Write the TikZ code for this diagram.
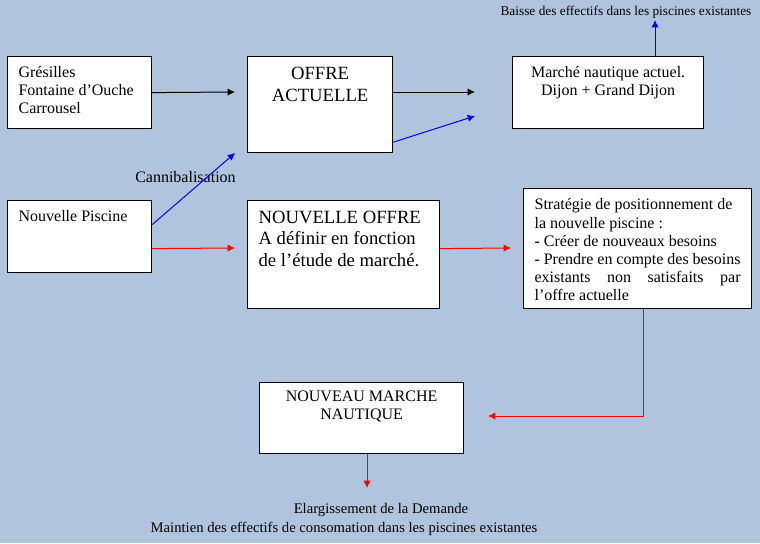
\documentclass[tikz,border=0pt]{standalone}
\usepackage{fontspec}
\setmainfont{Liberation Serif}
\usetikzlibrary{arrows.meta}
\definecolor{fond}{RGB}{176,196,222}
\definecolor{bleu}{RGB}{0,0,255}
\definecolor{rouge}{RGB}{255,0,0}

\begin{document}
\begin{tikzpicture}[x=0.75pt,y=-0.75pt,
    boite/.style={draw,fill=white,line width=0.9pt,anchor=north west,inner xsep=8.25pt},
    fleche/.style={line width=0.75pt,-{Latex[length=5.5pt,width=5.5pt]}},
    douze/.style={font=\fontsize{12}{13.6}\selectfont},
    onze/.style={font=\fontsize{11}{13}\selectfont},
    quatorze/.style={font=\fontsize{14}{16.3}\selectfont}]
    \fill[fond] (0,0) rectangle (760,543);
    \useasboundingbox (0,0) rectangle (760,543);

    \node[boite,douze,inner ysep=6pt](gres) at (7,56)
        {\parbox[t][42pt][t]{91.5pt}{\strut Grésilles\\Fontaine d’Ouche\\Carrousel}};
    \node[boite,quatorze,inner xsep=6pt,inner ysep=6pt](offre) at (247,56)
        {\parbox[t][60pt][t]{96.75pt}{\centering\strut OFFRE\\ACTUELLE}};
    \node[boite,douze,inner xsep=6pt,inner ysep=6.3pt](marche) at (512,56)
        {\parbox[t][41.4pt][t]{131.25pt}{\centering\strut Marché nautique actuel.\\Dijon + Grand Dijon}};
    \node[boite,douze,inner ysep=6pt](piscine) at (7,200)
        {\parbox[t][42pt][t]{91.5pt}{\strut Nouvelle Piscine}};
    \node[boite,quatorze,inner ysep=5.5pt](nouvelle) at (247,200)
        {\parbox[t][70pt][t]{127.5pt}{\strut NOUVELLE OFFRE\\A définir en fonction\\de l’étude de marché.}};
    \node[boite,douze,inner ysep=6.5pt](strat) at (523,188)
        {\parbox[t][77pt][t]{154.5pt}{\strut Stratégie de positionnement de\\la nouvelle piscine :\\- Créer de nouveaux besoins\\- Prendre en compte des besoins\\\makebox[\linewidth][s]{existants non satisfaits par}\\l’offre actuelle}};
    \node[boite,douze,inner xsep=6pt,inner ysep=4.5pt](nouveau) at (259,382)
        {\parbox[t][44.25pt][t]{141pt}{\centering\strut NOUVEAU MARCHE\\NAUTIQUE}};

    \node[font=\fontsize{10}{12}\selectfont,anchor=base](baisse) at (626,15)
        {Baisse des effectifs dans les piscines existantes};
    \node[douze,anchor=base west,inner sep=0pt](canni) at (135,182) {Cannibalisation};
    \node[onze,anchor=base](elarg) at (381,513) {Elargissement de la Demande};
    \node[onze,anchor=base](maintien) at (344,532)
        {Maintien des effectifs de consomation dans les piscines existantes};

    \coordinate (p1) at (235,92);
    \coordinate (p2) at (475,92);
    \coordinate (p3) at (475,116);
    \coordinate (p4) at (655,20);
    \coordinate (p5) at (235,153);
    \coordinate (p6) at (235,248);
    \coordinate (p7) at (511,248);
    \coordinate (p8) at (643,416);
    \coordinate (p9) at (488,416);
    \coordinate (p10) at (367,488);

    \draw[fleche] (gres.east) -- (p1);
    \draw[fleche] (offre.east |- p2) -- (p2);
    \draw[fleche,bleu] ([yshift=8.25pt]offre.south east) -- (p3);
    \draw[fleche,bleu] (p4 |- marche.north) -- (p4);
    \draw[fleche,bleu] ([yshift=9pt]piscine.east) -- (p5);
    \draw[fleche,rouge] ([yshift=-9pt]piscine.east) -- (p6);
    \draw[fleche,rouge] ([yshift=4.5pt]nouvelle.east) -- (p7);
    \draw[fleche,rouge] (strat.south -| p8) -- (p8) -- (p9);
    \draw[fleche,rouge] (p10 |- nouveau.south) -- (p10);
\end{tikzpicture}
\end{document}
